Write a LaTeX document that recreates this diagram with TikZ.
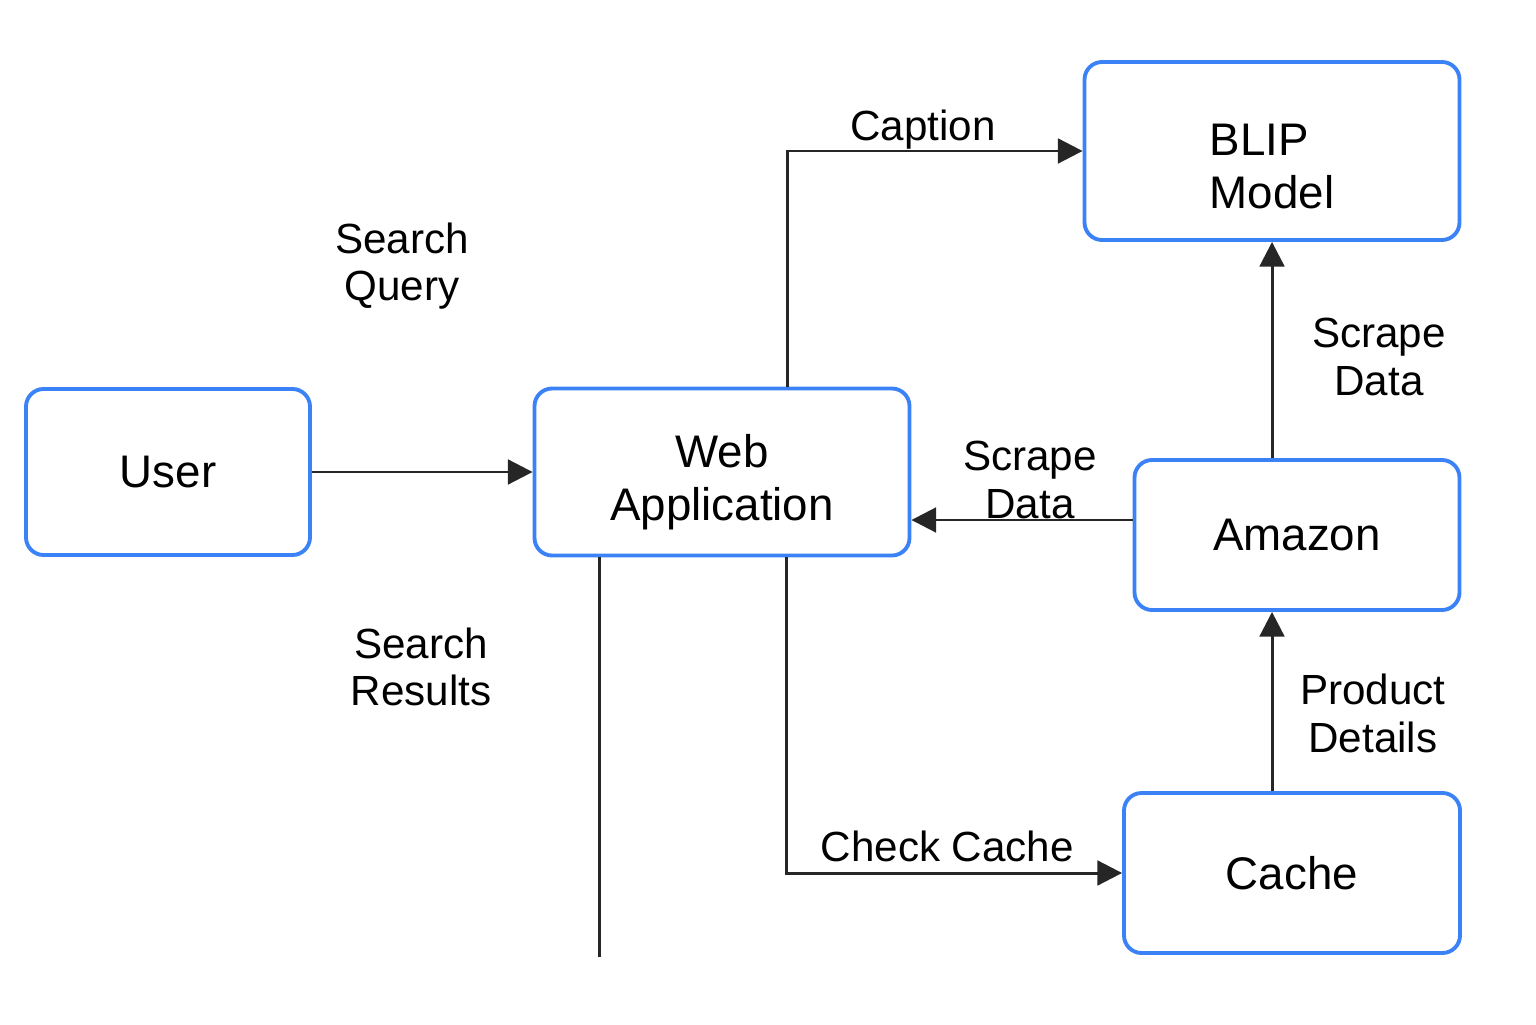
\documentclass[tikz,border=0pt]{standalone}
\usepackage{fontspec}
\setmainfont{Liberation Sans}
\usetikzlibrary{arrows.meta}
\definecolor{boxblue}{HTML}{3B82F6}
\definecolor{wire}{HTML}{262626}
\newcommand{\boxfont}{\fontsize{13}{15}\selectfont}
\newcommand{\lblfont}{\fontsize{12}{13.6}\selectfont}
\newcommand{\twoline}[4]{\smash{\raisebox{#1}{\begin{tabular}{@{}#2@{}}#3\\#4\end{tabular}}}}

\begin{document}
\begin{tikzpicture}[
		comp/.style={draw=boxblue,line width=1.1pt,rounded corners=5pt,fill=white,align=center,font=\boxfont},
		lbl/.style={align=center,font=\lblfont},
		link/.style={draw=wire,line width=0.85pt,-{Triangle[length=7pt,width=7pt]}}]
		\useasboundingbox (0,0) rectangle (15.36,10.24);
		
		\node[comp,minimum width=2.84cm,minimum height=1.66cm] (user) at (1.68,5.52) {User};
		\node[comp,minimum width=3.75cm,minimum height=1.67cm] (web) at (7.22,5.52) {\twoline{-2.2mm}{c}{Web}{Application}};
		\node[comp,minimum width=3.75cm,minimum height=1.78cm] (blip) at (12.72,8.73) {\twoline{-3.1mm}{l}{BLIP}{Model}};
		\node[comp,minimum width=3.25cm,minimum height=1.50cm] (amazon) at (12.97,4.89) {Amazon};
		\node[comp,minimum width=3.36cm,minimum height=1.60cm] (cache) at (12.92,1.51) {Cache};
		
		\node[lbl] (query) at (4.02,7.58) {Search\\Query};
		\node[lbl] (results) at (4.21,3.57) {Search\\Results};
		\coordinate (out) at (5.99,0.67);
		
		\draw[link] (user) to (web);
		\draw[link] ([xshift=6.5mm]web.north) |- (blip.west) node[lbl,above,pos=0.73,inner sep=0pt] {Caption};
		\draw[link] (amazon.north -| blip.south) to node[lbl,right=2.7mm,yshift=-0.7mm] {Scrape\\Data} (blip.south);
		\draw[link] ([yshift=1.5mm]amazon.west) coordinate (sd) to node[lbl,above,inner sep=0pt,xshift=0.8mm] {Scrape\\Data} (web.east |- sd);
		\draw[link] (cache.north -| blip.south) to node[lbl,right=1.5mm,yshift=-1.2mm] {Product\\Details} (amazon.south -| blip.south);
		\draw[link] ([xshift=6.4mm]web.south) |- (cache.west) node[lbl,above,pos=0.74,inner sep=2.7pt] {Check Cache};
		\draw[draw=wire,line width=0.85pt] (web.south -| out) to (out);
	\end{tikzpicture}
\end{document}
